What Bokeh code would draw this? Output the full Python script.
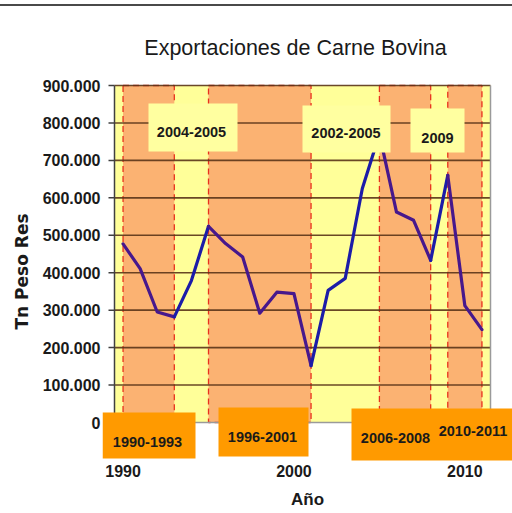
from bokeh.plotting import figure
from bokeh.models import BoxAnnotation, Label, FixedTicker, Range1d, Title, InlineStyleSheet
from bokeh.embed import file_html
from bokeh.resources import INLINE

# ---------------- data ----------------
years = list(range(1990, 2012))
exports = [477000, 411000, 295000, 282000, 379000, 524000, 478000, 442000,
           292000, 348000, 344000, 152000, 353000, 385000, 625000, 770000,
           562000, 540000, 433000, 660000, 312000, 248000]

band_starts = [1990, 1995, 2005, 2009]
band_ends = [1993, 2001, 2008, 2011]

y_ticks = [0, 100000, 200000, 300000, 400000, 500000, 600000, 700000, 800000, 900000]
y_tick_labels = ["0", "100.000", "200.000", "300.000", "400.000", "500.000",
                 "600.000", "700.000", "800.000", "900.000"]
x_ticks = [1990, 2000, 2010]
x_tick_labels = ["1990", "2000", "2010"]

title_text = "Exportaciones de Carne Bovina"
x_title = "Año"
y_title = "Tn Peso Res"

yellow_notes = ["2004-2005", "2002-2005", "2009"]
orange_notes = ["1990-1993", "1996-2001", "2006-2008", "2010-2011"]

# ---------------- style / layout ----------------
FONT = "Liberation Sans"
YELLOW = "#FFFF99"
BAND = "#FBB272"
ORANGE = "#FF9A00"
RED = "#E8321E"
TXT = "#1a1a1a"

W, H = 512, 513
# plot area (page px) and frame (page px)
PL, PR, PT, PB = 114, 490, 85, 422
FL, FR, FT, FB = 102, 512, 0, 462

X0, X1 = years[0] - 0.5, years[-1] + 0.5
Y0, Y1 = y_ticks[0], y_ticks[-1]


def X(px):
    return X0 + (px - PL) / (PR - PL) * (X1 - X0)


def Y(py):
    return Y0 + (PB - py) / (PB - PT) * (Y1 - Y0)


p = figure(width=W, height=H, output_backend="svg", toolbar_location=None,
           x_range=Range1d(X(FL), X(FR)), y_range=Range1d(Y(FB), Y(FT)),
           min_border_left=FL, min_border_right=W - FR,
           min_border_top=FT, min_border_bottom=H - FB,
           background_fill_color="white", border_fill_color="white",
           outline_line_color=None)
p.grid.visible = False

# thin rule across the top of the slide
p.stylesheets = [InlineStyleSheet(css=(
    ":host::before { content: ''; position: absolute; left: 0; top: 4px; "
    "width: 512px; height: 2px; background: #4a4a4a; z-index: 5; }"))]

# y axis (labels only; spine and ticks drawn below)
ya = p.yaxis[0]
ya.ticker = FixedTicker(ticks=y_ticks)
ya.major_label_overrides = {t: s for t, s in zip(y_ticks, y_tick_labels)}
ya.major_tick_out = 0
ya.major_tick_in = 0
ya.minor_tick_out = 0
ya.minor_tick_in = 0
ya.axis_line_color = None
ya.major_label_standoff = 2
ya.major_label_text_font = FONT
ya.major_label_text_font_style = "bold"
ya.major_label_text_font_size = "16px"
ya.major_label_text_color = TXT

xa = p.xaxis[0]
xa.ticker = FixedTicker(ticks=x_ticks)
xa.major_label_overrides = {t: s for t, s in zip(x_ticks, x_tick_labels)}
xa.major_tick_out = 0
xa.major_tick_in = 0
xa.minor_tick_out = 0
xa.minor_tick_in = 0
xa.axis_line_color = None
xa.major_label_standoff = 2
xa.major_label_text_font = FONT
xa.major_label_text_font_style = "bold"
xa.major_label_text_font_size = "16px"
xa.major_label_text_color = TXT
xa.axis_label = x_title
xa.axis_label_text_font = FONT
xa.axis_label_text_font_style = "bold"
xa.axis_label_text_font_size = "17px"
xa.axis_label_text_color = TXT
xa.axis_label_standoff = 10

p.add_layout(Title(text=y_title, align="left", offset=133, standoff=16,
                   text_font="DejaVu Sans", text_font_style="bold",
                   text_font_size="17px", text_color=TXT), "left")

# plot area background
p.quad(left=[X0], right=[X1], bottom=[Y0], top=[Y1], fill_color=YELLOW, line_color=None)

# orange period bands
p.quad(left=band_starts, right=band_ends, bottom=Y0, top=Y1,
       fill_color=BAND, line_color=RED, line_dash="6 4", line_width=1.3)

# gridlines
p.segment(x0=X0, x1=X1, y0=y_ticks[1:], y1=y_ticks[1:],
          line_color="#5a3418", line_width=1.6, line_alpha=0.9)

# plot-area border (right / bottom), left spine and ticks
p.line([X0, X1, X1], [Y0, Y0, Y1], line_color="#9a9a9a", line_width=1.5)
p.segment(x0=X0, x1=X0, y0=Y0, y1=Y1, line_color="#404040", line_width=1.5)
p.segment(x0=X(108), x1=X0, y0=y_ticks, y1=y_ticks, line_color="#404040", line_width=1.5)

# line, coloured per band (purple over orange, blue over yellow)
bounds = sorted(set(band_starts + band_ends + [years[0], years[-1]]))
for a, b in zip(bounds[:-1], bounds[1:]):
    inside = any(s <= a and b <= e for s, e in zip(band_starts, band_ends))
    xs = [yr for yr in years if a <= yr <= b]
    ys = [exports[years.index(yr)] for yr in xs]
    p.line(xs, ys, line_color="#47188c" if inside else "#1c1ca8",
           line_width=3.2, line_join="round", line_cap="round")

# note boxes
yboxes = [(148, 237, 103, 151), (302, 390, 105, 152), (410, 464, 108, 152)]
ytext = [(191, 131), (345.5, 132), (437, 137)]
oboxes = [(102, 195, 412, 458), (218, 308, 407, 456), (351, 512, 408, 460)]
otext = [(147, 441), (262, 436), (395, 437), (472.5, 430)]

for (l, r, t, b) in yboxes:
    p.add_layout(BoxAnnotation(left=X(l), right=X(r), top=Y(t), bottom=Y(b),
                               fill_color="#FFFFA0", fill_alpha=1, line_color=None,
                               level="overlay"))
for (l, r, t, b) in oboxes:
    p.add_layout(BoxAnnotation(left=X(l), right=X(r), top=Y(t), bottom=Y(b),
                               fill_color=ORANGE, fill_alpha=1, line_color=None,
                               level="overlay"))
for txt, (cx, cy) in list(zip(yellow_notes, ytext)) + list(zip(orange_notes, otext)):
    p.add_layout(Label(x=X(cx), y=Y(cy), text=txt, text_align="center",
                       text_baseline="middle", text_font=FONT,
                       text_font_style="bold", text_font_size="14.5px",
                       text_color=TXT, level="overlay"))

# chart title
p.add_layout(Label(x=X(295), y=Y(47), text=title_text, text_align="center",
                   text_baseline="middle", text_font=FONT,
                   text_font_size="21.5px", text_color=TXT))

open("out.html", "w").write(file_html(p, INLINE))
